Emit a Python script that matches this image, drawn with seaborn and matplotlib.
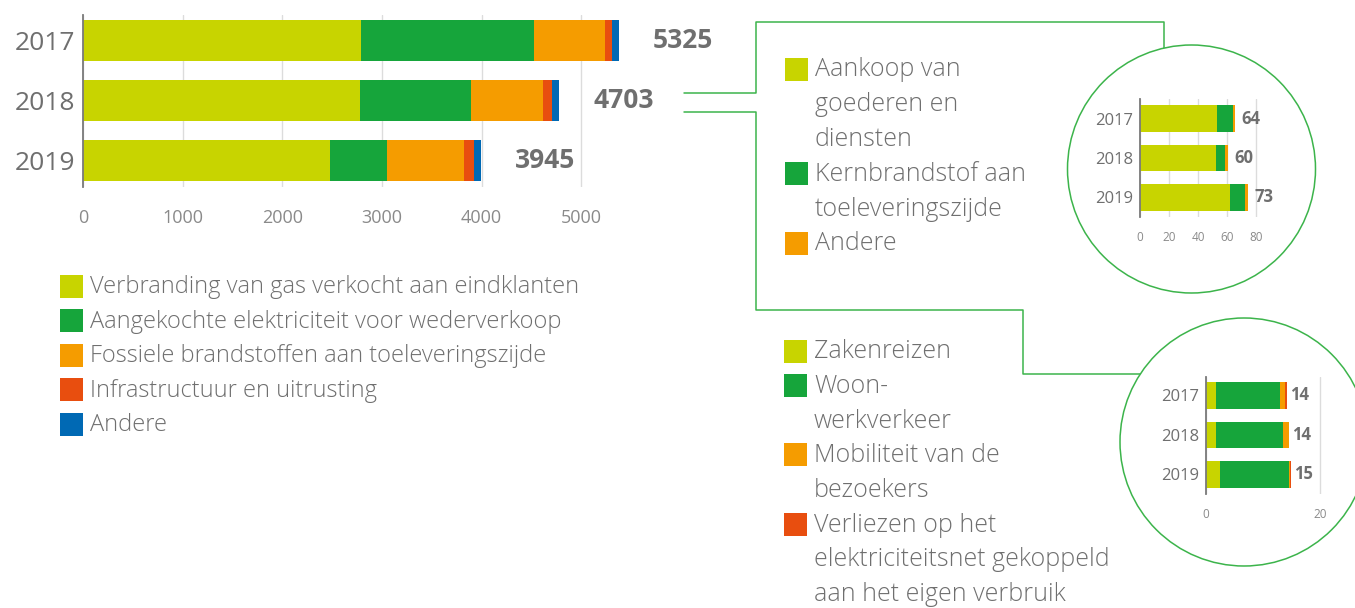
import numpy as np
import matplotlib
matplotlib.use('Agg')
import matplotlib.pyplot as plt
from matplotlib.patches import Circle, Rectangle
import seaborn as sns

sns.set_style('white')
plt.rcParams['font.family'] = ['Open Sans', 'DejaVu Sans']

YEARS = ['2017', '2018', '2019']

# main chart: scope 3 emissions by source
MAIN_LABELS = ['Verbranding van gas verkocht aan eindklanten',
               'Aangekochte elektriciteit voor wederverkoop',
               'Fossiele brandstoffen aan toeleveringszijde',
               'Infrastructuur en uitrusting',
               'Andere']
gas_combustion = [2790, 2783, 2482]
power_resale = [1737, 1109, 570]
fossil_upstream = [715, 725, 770]
infrastructure = [71, 91, 101]
other_main = [68, 71, 74]
main_totals = [5325, 4703, 3945]

# inset 1: purchased goods
PURCH_LABELS = ['Aankoop van\ngoederen en\ndiensten',
                'Kernbrandstof aan\ntoeleveringszijde',
                'Andere']
goods_services = [53.1, 52.4, 62.0]
nuclear_fuel = [11.0, 6.2, 10.4]
other_purch = [1.4, 1.9, 2.1]
purch_totals = [64, 60, 73]

# inset 2: mobility
MOB_LABELS = ['Zakenreizen',
              'Woon-\nwerkverkeer',
              'Mobiliteit van de\nbezoekers',
              'Verliezen op het\nelektriciteitsnet gekoppeld\naan het eigen verbruik']
business_travel = [1.8, 1.8, 2.5]
commuting = [11.2, 11.7, 12.1]
visitors = [0.8, 1.0, 0.15]
grid_losses = [0.4, 0.1, 0.15]
mob_totals = [14, 14, 15]

YELLOW = '#c8d400'
GREEN = '#16a53b'
ORANGE = '#f59c00'
RED = '#e84e0f'
BLUE = '#0069b4'
LINE_GREEN = '#3cb44b'
GREY = '#6f6f6f'
LIGHT_GREY = '#8a8a8a'

W, H = 1355, 608


def px_axes(fig, left, top, right, bottom):
    return fig.add_axes([left / W, 1 - bottom / H, (right - left) / W, (bottom - top) / H])


def stacked(ax, segments, colors, width):
    cum = np.cumsum(np.array(segments), axis=0)
    # draw the longest stack first, then cover it piece by piece
    for vals, col in zip(cum[::-1], colors[::-1]):
        sns.barplot(x=vals, y=YEARS, orient='h', color=col, width=width,
                    saturation=1, linewidth=0, ax=ax)
    return cum[-1]


def style_axis(ax, xticks, xlim, ylim, year_fs, tick_fs, ypad, xpad):
    ax.set_facecolor('none')
    ax.set_xlim(*xlim)
    ax.set_ylim(*ylim)
    ax.set_xticks(xticks)
    ax.set_xticklabels([str(t) for t in xticks])
    ax.set_xlabel('')
    ax.set_ylabel('')
    for s in ['top', 'right', 'bottom']:
        ax.spines[s].set_visible(False)
    ax.spines['left'].set_color('#7a7a7a')
    ax.spines['left'].set_linewidth(1.3)
    ax.spines['left'].set_zorder(5)
    ax.grid(axis='x', color='#dcdcdc', linewidth=1)
    ax.set_axisbelow(True)
    ax.tick_params(axis='y', length=0, pad=ypad, labelsize=year_fs, labelcolor=GREY)
    ax.tick_params(axis='x', length=0, pad=xpad, labelsize=tick_fs, labelcolor=LIGHT_GREY)


def draw_legend(ax, x, y0, step, labels, colors, fs, box):
    line = 0
    for lab, col in zip(labels, colors):
        yc = y0 + line * step
        ax.add_patch(Rectangle((x, yc - box / 2), box, box, color=col, lw=0))
        for i, part in enumerate(lab.split('\n')):
            ax.text(x + box + 7, yc + i * step + 1, part, fontsize=fs, color=GREY,
                    va='center', ha='left', fontweight='light')
        line += len(lab.split('\n'))


fig = plt.figure(figsize=(W / 100, H / 100), dpi=100)

# overlay for connectors, circles and legends, in pixel units
ov = fig.add_axes([0, 0, 1, 1])
ov.set_xlim(0, W)
ov.set_ylim(H, 0)
ov.axis('off')

ov.plot([684, 756, 756, 1164, 1164], [93, 93, 22, 22, 169], color=LINE_GREEN, lw=1.1, zorder=1)
ov.plot([684, 756, 756, 1023, 1023, 1244], [112, 112, 310, 310, 374, 374], color=LINE_GREEN, lw=1.1, zorder=1)
ov.add_patch(Circle((1191.5, 169), 124, facecolor='white', edgecolor=LINE_GREEN, lw=1.1, zorder=2))
ov.add_patch(Circle((1244, 442), 124, facecolor='white', edgecolor=LINE_GREEN, lw=1.1, zorder=2))

draw_legend(ov, 60, 286, 34.6, MAIN_LABELS, [YELLOW, GREEN, ORANGE, RED, BLUE], 17, 23)
draw_legend(ov, 785, 69, 34.8, PURCH_LABELS, [YELLOW, GREEN, ORANGE], 18, 23)
draw_legend(ov, 784, 351, 34.6, MOB_LABELS, [YELLOW, GREEN, ORANGE, RED], 18, 23)

# ---- main chart ----
ax = px_axes(fig, 83, 15, 621, 187)
ends = stacked(ax, [gas_combustion, power_resale, fossil_upstream, infrastructure, other_main],
               [YELLOW, GREEN, ORANGE, RED, BLUE], 0.686)
style_axis(ax, [0, 1000, 2000, 3000, 4000, 5000], (0, 5400), (2.443, -0.435), 19, 13, 5.5, 16)
for i, (end, tot) in enumerate(zip(ends, main_totals)):
    ax.text(end + 340, i, str(tot), fontsize=19, fontweight='bold', color=GREY,
            va='center', ha='left', clip_on=False)

# ---- inset: purchased goods ----
ax1 = px_axes(fig, 1140, 99, 1270.5, 217)
ends = stacked(ax1, [goods_services, nuclear_fuel, other_purch], [YELLOW, GREEN, ORANGE], 0.68)
style_axis(ax1, [0, 20, 40, 60, 80], (0, 90), (2.494, -0.494), 12, 8.5, 5, 10)
for i, (end, tot) in enumerate(zip(ends, purch_totals)):
    ax1.text(end + 4.5, i, str(tot), fontsize=12, fontweight='bold', color=GREY,
             va='center', ha='left', clip_on=False)

# ---- inset: mobility ----
ax2 = px_axes(fig, 1205.7, 377, 1322.8, 494)
ends = stacked(ax2, [business_travel, commuting, visitors, grid_losses],
               [YELLOW, GREEN, ORANGE, RED], 0.68)
style_axis(ax2, [0, 20], (0, 20.5), (2.494, -0.468), 12, 8.5, 5, 10)
for i, (end, tot) in enumerate(zip(ends, mob_totals)):
    ax2.text(end + 0.5, i, str(tot), fontsize=12, fontweight='bold', color=GREY,
             va='center', ha='left', clip_on=False)

fig.savefig('out.png', dpi=100)
